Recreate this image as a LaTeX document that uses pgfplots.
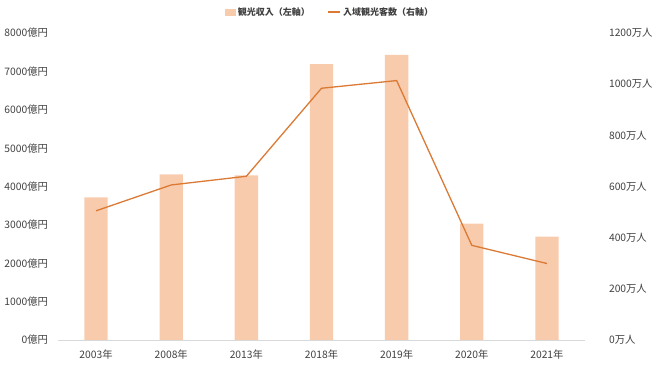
\documentclass[border=0pt]{standalone}
\usepackage{fontspec}
\setmainfont{Noto Sans CJK JP}
\usepackage{pgfplots}
\pgfplotsset{compat=1.18}
\definecolor{barc}{HTML}{F8CBAD}
\definecolor{linec}{HTML}{DA7A35}
\definecolor{txt}{HTML}{404040}
\begin{document}
\begin{tikzpicture}
\pgfplotsset{
  every axis/.append style={
    scale only axis, width=526pt, height=307pt,
    xmin=-0.5, xmax=6.5,
    /pgf/number format/assume math mode=true,
    /pgf/number format/1000 sep={},
    tick style={draw=none},
    tick label style={font=\fontsize{10.3}{12}\selectfont, text=txt},
  }
}
\begin{axis}[
  at={(0,0)}, anchor=south west,
  ymin=0, ymax=8000, ytick={0,1000,...,8000},
  axis y line*=left, axis x line*=bottom,
  y axis line style={draw=none},
  x axis line style={draw=black!15},
  xtick=data,
  xticklabels={2003年,2008年,2013年,2018年,2019年,2020年,2021年},
  yticklabel={\pgfmathprintnumber{\tick}億円},
  yticklabel style={xshift=-7pt},
  xticklabel style={yshift=-6pt},
]
\addplot[ybar, bar width=0.31, fill=barc, draw=none] coordinates {
  (0,3718) (1,4318) (2,4292) (3,7192) (4,7427) (5,3031) (6,2692)};
\end{axis}
\begin{axis}[
  at={(0,0)}, anchor=south west,
  ymin=0, ymax=1200, ytick={0,200,...,1200},
  axis y line*=right, axis x line=none,
  y axis line style={draw=none},
  yticklabel={\pgfmathprintnumber{\tick}万人},
  yticklabel style={xshift=21pt},
  legend style={at={(0.516,1.068)}, anchor=center, draw=none, fill=none,
    font=\fontsize{9}{10}\selectfont\bfseries, text=txt,
    legend columns=2, /tikz/every even column/.append style={column sep=16pt}},
  legend image code/.code={\draw[#1] (0pt,0pt) -- (12pt,0pt);},
]
\addlegendimage{area legend, fill=barc, draw=none,
  legend image code/.code={\fill[barc] (0pt,-3.5pt) rectangle (11pt,3.5pt);}}
\addlegendentry{観光収入（左軸）}
\addplot[linec, line width=1.3pt, mark=none] coordinates {
  (0,505) (1,606) (2,640) (3,984) (4,1014) (5,370) (6,299)};
\addlegendentry{入域観光客数（右軸）}
\end{axis}
\pgfresetboundingbox
\path (-58.5pt,-31pt) rectangle (601.5pt,340pt);
\end{tikzpicture}
\end{document}
